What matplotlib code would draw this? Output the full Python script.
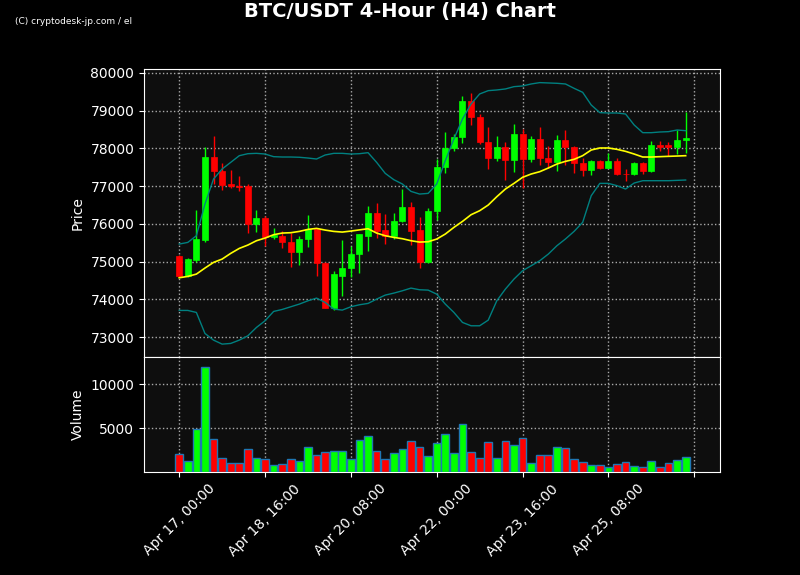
import numpy as np
import matplotlib
matplotlib.use("Agg")
import matplotlib.pyplot as plt

# H4 candles, Apr 17 00:00 onwards
opens = [75155, 74625, 75049, 75579, 77781, 77400, 77065, 77015, 77010, 76004,
         76163, 75641, 75676, 75526, 75243, 75588, 75862, 74969, 73775, 74624,
         74819, 75190, 75685, 76295, 75844, 75685, 76065, 76454, 75844, 74987,
         76331, 77498, 78002, 78294, 79266, 78842, 78179, 77737, 78046, 77683,
         78391, 77710, 78258, 77754, 77630, 78232, 78046, 77622, 77418, 77675,
         77489, 77675, 77330, 77312, 77622, 77392, 78090, 78099, 78028, 78223]
highs = [75180, 75100, 76366, 78037, 78329, 77622, 77427, 77268, 77056, 76366,
         76215, 75889, 75818, 75747, 75685, 76233, 75880, 74990, 74739, 75570,
         75420, 75730, 76472, 76543, 76251, 76286, 76923, 76569, 76189, 76428,
         77710, 78435, 78382, 79390, 79470, 78912, 78568, 78329, 78170, 78647,
         78515, 78329, 78568, 78064, 78356, 78497, 78070, 77737, 77700, 77690,
         77887, 77737, 77454, 77640, 77640, 78196, 78196, 78170, 78497, 78957]
lows = [74580, 74580, 74996, 75508, 77056, 76897, 76941, 76879, 75756, 75782,
        75420, 75588, 75349, 74863, 74916, 75394, 74624, 73760, 73714, 74076,
        74598, 74695, 75279, 75623, 75464, 75597, 76050, 75447, 74828, 74951,
        76110, 77347, 77931, 78134, 78630, 78117, 77454, 77657, 77162, 77374,
        76941, 77650, 77560, 77480, 77409, 77560, 77347, 77268, 77295, 77454,
        77480, 77300, 77144, 77295, 77310, 77370, 77931, 77807, 77851, 77869]
closes = [74607, 75075, 75606, 77781, 77392, 77038, 76994, 76990, 76004, 76163,
          75641, 75703, 75508, 75243, 75606, 75862, 74951, 73775, 74660, 74836,
          75208, 75721, 76295, 75818, 75685, 76083, 76454, 75818, 74987, 76348,
          77515, 78011, 78311, 79266, 78824, 78161, 77737, 78046, 77683, 78391,
          77710, 78258, 77737, 77630, 78232, 78028, 77604, 77418, 77675, 77489,
          77675, 77312, 77312, 77622, 77392, 78099, 78046, 78028, 78232, 78276]
volumes = [2045, 1250, 4886, 11932, 3750, 1591, 1023, 1023, 2614, 1591,
           1477, 795, 909, 1477, 1250, 2841, 1932, 2273, 2386, 2386,
           1477, 3636, 4091, 2386, 1477, 2159, 2614, 3523, 2841, 1818,
           3295, 4318, 2159, 5455, 2273, 1591, 3409, 1591, 3523, 3068,
           3864, 1023, 1932, 1932, 2841, 2727, 1477, 1136, 795, 795,
           568, 909, 1136, 682, 568, 1250, 568, 1023, 1364, 1705]

# Bollinger bands as drawn
bb_upper = [75464, 75508, 75685, 76525, 77188, 77454, 77630, 77807, 77860, 77869,
            77851, 77781, 77772, 77772, 77765, 77745, 77719, 77825, 77869, 77869,
            77851, 77860, 77887, 77630, 77339, 77171, 77056, 76861, 76790, 76808,
            77056, 77675, 78249, 78780, 79178, 79443, 79531, 79549, 79576, 79637,
            79655, 79708, 79744, 79735, 79726, 79708, 79593, 79487, 79151, 78948,
            78939, 78939, 78912, 78621, 78417, 78417, 78435, 78444, 78488, 78470]
bb_mid = [74571, 74607, 74668, 74828, 74978, 75066, 75217, 75349, 75438, 75553,
          75623, 75712, 75756, 75765, 75800, 75853, 75880, 75835, 75800, 75782,
          75809, 75840, 75871, 75756, 75685, 75641, 75606, 75553, 75517, 75526,
          75597, 75730, 75906, 76065, 76242, 76348, 76499, 76720, 76923, 77073,
          77233, 77321, 77383, 77480, 77586, 77657, 77710, 77807, 77958, 78011,
          78011, 77975, 77922, 77851, 77772, 77772, 77781, 77790, 77798, 77807]
bb_lower = [73705, 73705, 73652, 73095, 72918, 72812, 72830, 72918, 73033, 73254,
            73431, 73678, 73731, 73802, 73873, 73961, 74032, 73917, 73740, 73714,
            73802, 73855, 73891, 74005, 74111, 74164, 74226, 74297, 74253, 74244,
            74137, 73873, 73652, 73387, 73298, 73298, 73448, 73961, 74271, 74536,
            74757, 74889, 75022, 75199, 75420, 75600, 75800, 76039, 76746, 77073,
            77073, 77012, 76923, 77082, 77144, 77144, 77144, 77144, 77153, 77162]

tick_pos = [0, 10, 20, 30, 40, 50, 60]
tick_labels = ["Apr 17, 00:00", "Apr 18, 16:00", "Apr 20, 08:00", "Apr 22, 00:00",
               "Apr 23, 16:00", "Apr 25, 08:00", ""]

o = np.array(opens)
c = np.array(closes)
x = np.arange(len(o))
up = c >= o
cols = np.where(up, "#00ff00", "#ff0000")

fig = plt.figure(figsize=(8, 5.75), dpi=100, facecolor="black")
ax = fig.add_axes([0.18, 0.3791, 0.72, 0.5009])
axv = fig.add_axes([0.18, 0.1791, 0.72, 0.2], sharex=ax)

for a in (ax, axv):
    a.set_facecolor("#0e0e0e")
    for s in a.spines.values():
        s.set_color("white")
    a.tick_params(colors="white", labelsize=10)
    a.grid(True, color="#aaaaaa", linestyle=":", linewidth=1)
    a.set_axisbelow(True)

# candles
ax.vlines(x, lows, highs, colors=cols, linewidth=1, zorder=2)
body = np.maximum(np.abs(c - o), 12)
ax.bar(x, body, bottom=np.minimum(o, c), width=0.7, color=cols, edgecolor=cols,
       linewidth=0.5, zorder=3)

ax.plot(x, bb_upper, color="#008080", linewidth=1, zorder=4)
ax.plot(x, bb_lower, color="#008080", linewidth=1, zorder=4)
ax.plot(x, bb_mid, color="yellow", linewidth=1.2, zorder=4)

ax.set_ylim(72470, 80105)
ax.set_yticks(np.arange(73000, 80001, 1000))
ax.ticklabel_format(axis="y", useOffset=False, style="plain")
ax.set_ylabel("Price", color="white", fontsize=10)
ax.tick_params(labelbottom=False)

# volume
axv.bar(x, volumes, width=0.9, color=cols, edgecolor="#1f77b4", linewidth=1, zorder=3)
axv.set_ylim(0, 13100)
axv.set_yticks([5000, 10000])
axv.set_ylabel("Volume", color="white", fontsize=10)
axv.set_xlim(-4.1, 63)
axv.set_xticks(tick_pos)
axv.set_xticklabels(tick_labels, rotation=45)

fig.text(0.5, 1 - 11 / 575, "BTC/USDT 4-Hour (H4) Chart", color="white",
         fontsize=14, fontweight="bold", ha="center", va="center")
fig.text(15 / 800, 1 - 21 / 575, "(C) cryptodesk-jp.com / el", color="white",
         fontsize=6.5, ha="left", va="center")

plt.savefig("out.png", dpi=100, facecolor="black")
